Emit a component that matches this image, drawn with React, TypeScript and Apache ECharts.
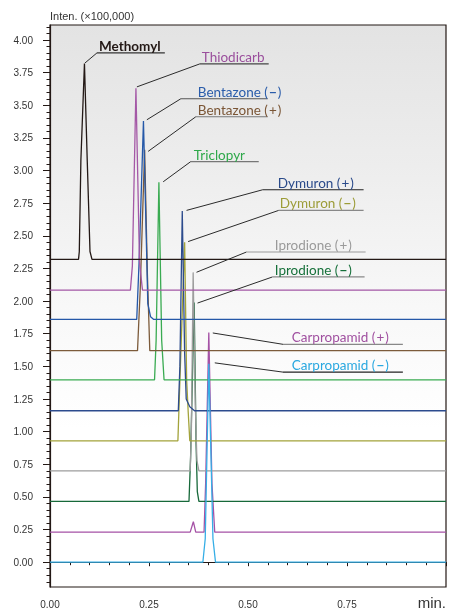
import React, { useEffect, useRef } from "react";
import * as echarts from "echarts";

// ---------- data ----------
const COMPOUNDS = [
  "Methomyl",
  "Thiodicarb",
  "Bentazone (−)",
  "Bentazone (+)",
  "Triclopyr",
  "Dymuron (+)",
  "Dymuron (−)",
  "Iprodione (+)",
  "Iprodione (−)",
  "Carpropamid (+)",
  "Carpropamid (−)",
];

// [time (min), intensity (x100,000)] — each trace is offset on its own baseline
const METHOMYL = [[0, 2.32], [0.072, 2.32], [0.074, 2.38], [0.078, 3.08], [0.087, 3.82], [0.094, 3.08], [0.101, 2.38], [0.106, 2.32], [1, 2.32]];
const THIODICARB = [[0, 2.084], [0.203, 2.084], [0.208, 2.27], [0.217, 3.63], [0.226, 2.3], [0.2335, 2.084], [1, 2.084]];
const BENTAZONE_NEG = [[0, 1.86], [0.219, 1.86], [0.225, 2.3], [0.236, 3.38], [0.243, 2.5], [0.247, 1.98], [0.254, 1.88], [0.262, 1.86], [1, 1.86]];
const BENTAZONE_POS = [[0, 1.62], [0.221, 1.62], [0.228, 2.1], [0.239, 3.16], [0.246, 2.2], [0.252, 1.62], [1, 1.62]];
const TRICLOPYR = [[0, 1.397], [0.264, 1.397], [0.268, 1.7], [0.275, 2.91], [0.282, 1.7], [0.288, 1.397], [1, 1.397]];
const DYMURON_POS = [[0, 1.16], [0.324, 1.16], [0.328, 1.5], [0.334, 2.69], [0.340, 1.6], [0.344, 1.25], [0.353, 1.19], [0.365, 1.16], [1, 1.16]];
const DYMURON_NEG = [[0, 0.93], [0.323, 0.93], [0.327, 1.3], [0.340, 2.45], [0.345, 1.4], [0.349, 1.15], [0.353, 0.93], [1, 0.93]];
const IPRODIONE_POS = [[0, 0.70], [0.354, 0.70], [0.357, 1.0], [0.3615, 2.22], [0.367, 1.2], [0.371, 0.78], [0.376, 0.70], [1, 0.70]];
const IPRODIONE_NEG = [[0, 0.466], [0.351, 0.466], [0.355, 0.8], [0.364, 1.99], [0.369, 0.9], [0.372, 0.54], [0.376, 0.466], [1, 0.466]];
const CARPROPAMID_POS = [[0, 0.23], [0.354, 0.23], [0.362, 0.31], [0.368, 0.23], [0.389, 0.23], [0.393, 0.6], [0.401, 1.76], [0.409, 0.6], [0.416, 0.23], [1, 0.23]];
const CARPROPAMID_NEG = [[0, 0], [0.386, 0], [0.392, 0.18], [0.401, 1.52], [0.4115, 0.18], [0.418, 0], [1, 0]];

const TRACES = [METHOMYL, THIODICARB, BENTAZONE_NEG, BENTAZONE_POS, TRICLOPYR, DYMURON_POS, DYMURON_NEG, IPRODIONE_POS, IPRODIONE_NEG, CARPROPAMID_POS, CARPROPAMID_NEG];

// axis ticks
const Y_MAJOR = [0, 0.25, 0.5, 0.75, 1.0, 1.25, 1.5, 1.75, 2.0, 2.25, 2.5, 2.75, 3.0, 3.25, 3.5, 3.75, 4.0];
const Y_MINOR: number[] = [];
for (let i = -3; i <= 82; i++) Y_MINOR.push(Math.round(i * 5) / 100);
const X_UNIT = "min.";
const Y_UNIT = "Inten. (×100,000)";

// annotation anchors in data units: underline start/end time, underline level, text start, leader end
const UL_START = [0.1185, 0.3783, 0.3304, 0.3682, 0.3556, 0.5372, 0.5776, 0.4961, 0.5617, 0.5884, 0.5884];
const UL_END = [0.290, 0.5523, 0.5498, 0.5498, 0.5271, 0.7919, 0.7919, 0.7970, 0.7944, 0.8911, 0.8911];
const UL_LEVEL = [3.901, 3.817, 3.550, 3.412, 3.069, 2.853, 2.695, 2.376, 2.185, 1.669, 1.456];
const TEXT_START = [0.1236, 0.3834, 0.3733, 0.3733, 0.3632, 0.5750, 0.5801, 0.5675, 0.5675, 0.6103, 0.6103];
const LEADER_T = [0.0883, 0.2194, 0.2446, 0.2479, 0.2858, 0.3448, 0.3488, 0.3700, 0.3725, 0.4111, 0.4161];
const LEADER_V = [3.824, 3.641, 3.389, 3.147, 2.914, 2.695, 2.456, 2.221, 1.985, 1.756, 1.527];

// ---------- styles ----------
const LINE_COLORS = ["#231815", "#a458a6", "#2558a8", "#7c5b3b", "#3aab52", "#2c4b8d", "#a3a33b", "#9d9d9d", "#17693a", "#a552a6", "#35aee6"];
const TEXT_COLORS = ["#231815", "#9a4e9c", "#2a5caa", "#7a5535", "#2ea84a", "#2a4a8a", "#9c9c38", "#9a9a9a", "#16703a", "#a050a0", "#2aa8e0"];
const UL_COLORS = ["#333333", "#444444", "#555555", "#777777", "#777777", "#222222", "#888888", "#999999", "#888888", "#888888", "#222222"];

const AXIS_COLOR = "#231815";
const FONT = '"Liberation Sans", Arial, sans-serif';
const LABEL_FONT = 'Lato, "Noto Sans", sans-serif';

const Y_MIN = -0.19;
const Y_MAX = 4.115;

function richName(name: string) {
  // make the polarity sign bold like the reference
  return name.replace("(−)", "({s|−})").replace("(+)", "({p|+})");
}

export default function App() {
  const ref = useRef<HTMLDivElement>(null);

  useEffect(() => {
    if (!ref.current) return;
    const chart = echarts.init(ref.current, undefined, { renderer: "svg" });

    // draw from bottom trace to top trace so upper traces sit on top
    const order = TRACES.map((_, i) => i).reverse();
    const series = order.map((i) => ({
      type: "line",
      name: COMPOUNDS[i],
      data: TRACES[i],
      xAxisIndex: 0,
      yAxisIndex: 0,
      symbol: "none",
      lineStyle: { color: LINE_COLORS[i], width: 1.3 },
      itemStyle: { color: LINE_COLORS[i] },
      z: i === TRACES.length - 1 ? 3 : 2,
    }));

    chart.setOption({
      animation: false,
      grid: {
        left: 50,
        right: 2,
        top: 25,
        bottom: 20,
        show: true,
        borderColor: AXIS_COLOR,
        borderWidth: 1.2,
        backgroundColor: new echarts.graphic.LinearGradient(0, 0, 0, 1, [
          { offset: 0, color: "#e3e3e3" },
          { offset: 0.25, color: "#ededed" },
          { offset: 0.5, color: "#f8f8f8" },
          { offset: 0.72, color: "#ffffff" },
          { offset: 1, color: "#ffffff" },
        ]),
      },
      xAxis: {
        type: "value",
        min: 0,
        max: 1,
        interval: 0.25,
        axisLine: { show: true, lineStyle: { color: AXIS_COLOR, width: 1.2 } },
        axisTick: { show: true, inside: false, length: 4, lineStyle: { color: AXIS_COLOR } },
        minorTick: { show: true, splitNumber: 5, length: 3, lineStyle: { color: AXIS_COLOR } },
        splitLine: { show: false },
        axisLabel: {
          margin: 12,
          fontSize: 10,
          fontFamily: FONT,
          color: "#333",
          formatter: (v: number) => (v >= 0.999 ? "" : v.toFixed(2)),
        },
      },
      yAxis: [
        {
          type: "value",
          min: Y_MIN,
          max: Y_MAX,
          position: "left",
          name: Y_UNIT,
          nameLocation: "end",
          nameGap: 4,
          nameTextStyle: { align: "left", verticalAlign: "bottom", fontSize: 11, fontFamily: FONT, color: "#333" },
          axisLine: { show: true, lineStyle: { color: AXIS_COLOR, width: 1.2 } },
          axisTick: { show: true, inside: false, length: 7, customValues: Y_MAJOR, lineStyle: { color: AXIS_COLOR } },
          axisLabel: {
            show: true,
            margin: 17,
            fontSize: 10,
            fontFamily: FONT,
            color: "#333",
            customValues: Y_MAJOR,
            formatter: (v: number) => v.toFixed(2),
          },
          splitLine: { show: false },
        },
        {
          type: "value",
          min: Y_MIN,
          max: Y_MAX,
          position: "left",
          offset: 0,
          axisLine: { show: false },
          axisTick: { show: true, inside: false, length: 3.5, customValues: Y_MINOR, lineStyle: { color: AXIS_COLOR } },
          axisLabel: { show: false },
          splitLine: { show: false },
        },
      ],
      series,
    });

    const toPx = (t: number, v: number) =>
      chart.convertToPixel({ xAxisIndex: 0, yAxisIndex: 0 }, [t, v]) as number[];

    const elements: any[] = [];
    COMPOUNDS.forEach((name, i) => {
      const a = toPx(UL_START[i], UL_LEVEL[i]);
      const b = toPx(UL_END[i], UL_LEVEL[i]);
      const e = toPx(LEADER_T[i], LEADER_V[i]);
      const tx = toPx(TEXT_START[i], UL_LEVEL[i]);
      const font = `${i === 0 ? "bold " : ""}13.5px ${LABEL_FONT}`;
      elements.push({
        type: "line",
        silent: true,
        z: 100,
        shape: { x1: e[0], y1: e[1], x2: a[0], y2: a[1] },
        style: { stroke: "#2b2b2b", lineWidth: 1 },
      });
      elements.push({
        type: "line",
        silent: true,
        z: 100,
        shape: { x1: a[0], y1: a[1], x2: b[0], y2: b[1] },
        style: { stroke: UL_COLORS[i], lineWidth: 1.2 },
      });
      elements.push({
        type: "text",
        silent: true,
        z: 101,
        x: tx[0],
        y: tx[1] - 7,
        style: {
          text: richName(name),
          fill: TEXT_COLORS[i],
          font,
          align: "left",
          verticalAlign: "middle",
          rich: {
            s: { fontWeight: "bold", fontFamily: LABEL_FONT, fontSize: 13.5, fill: TEXT_COLORS[i], padding: [0, 1, 0, 1] },
            p: { fontFamily: LABEL_FONT, fontSize: 13.5, fill: TEXT_COLORS[i], padding: [0, 1, 0, 1] },
          },
        },
      });
    });

    const endPx = toPx(1, Y_MIN);
    elements.push({
      type: "text",
      silent: true,
      z: 101,
      x: endPx[0],
      y: endPx[1] + 15,
      style: {
        text: X_UNIT,
        fill: "#333",
        font: `15px ${FONT}`,
        align: "right",
        verticalAlign: "middle",
      },
    });

    chart.setOption({ graphic: { elements } });

    return () => chart.dispose();
  }, []);

  return (
    <div
      ref={ref}
      style={{ position: "fixed", left: 0, top: 0, width: 449, height: 609 }}
    />
  );
}
